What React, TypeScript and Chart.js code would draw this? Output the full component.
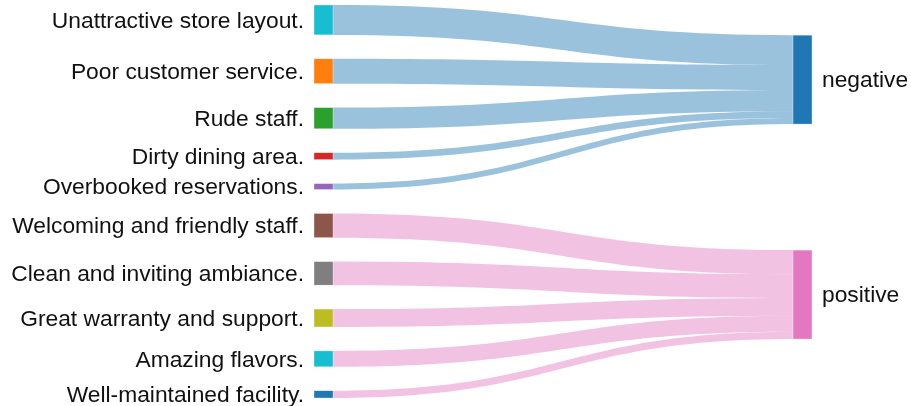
import React, { useEffect, useRef } from "react";
import { Chart, registerables } from "chart.js";

Chart.register(...registerables);

const sourceLabels = [
  "Unattractive store layout.",
  "Poor customer service.",
  "Rude staff.",
  "Dirty dining area.",
  "Overbooked reservations.",
  "Welcoming and friendly staff.",
  "Clean and inviting ambiance.",
  "Great warranty and support.",
  "Amazing flavors.",
  "Well-maintained facility.",
];
const sourceColors = [
  "#17becf", "#ff7f0e", "#2ca02c", "#d62728", "#9467bd",
  "#8c564b", "#7f7f7f", "#bcbd22", "#17becf", "#1f77b4",
];
const targetLabels = ["negative", "positive"];
const targetColors = ["#1f77b4", "#e377c2"];
const linkColors = ["rgba(31,119,180,0.45)", "rgba(227,119,194,0.45)"];
const linkTargets = [0, 0, 0, 0, 0, 1, 1, 1, 1, 1];
const flowValues = [30, 25, 21.3, 7, 6, 24.3, 23.7, 18, 16, 7.3];

const NODE_PAD = 24;
const NODE_W = 19;
const FONT = '22.8px "Liberation Sans", Arial, sans-serif';
const TEXT_DY = 1.5;

const totalHeight =
  flowValues.reduce((a, b) => a + b, 0) + NODE_PAD * (flowValues.length - 1);

function computeLayout() {
  const src: { y0: number; y1: number }[] = [];
  let y = 0;
  flowValues.forEach((v) => {
    src.push({ y0: y, y1: y + v });
    y += v + NODE_PAD;
  });
  const tgt = targetLabels.map((_, t) => {
    let sum = 0;
    let wsum = 0;
    flowValues.forEach((v, i) => {
      if (linkTargets[i] === t) {
        sum += v;
        wsum += v * ((src[i].y0 + src[i].y1) / 2);
      }
    });
    const c = wsum / sum;
    return { y0: c - sum / 2, y1: c + sum / 2 };
  });
  return { src, tgt };
}

const sankeyPlugin = {
  id: "sankeyDraw",
  afterDatasetsDraw(chart: any) {
    const ctx = chart.ctx;
    const xs = chart.scales.x;
    const ys = chart.scales.y;
    const { src, tgt } = computeLayout();
    const xL = xs.getPixelForValue(0);
    const xR = xs.getPixelForValue(1);
    const xLe = xL + NODE_W;
    const xRs = xR - NODE_W;
    const xm = (xLe + xRs) / 2;
    ctx.save();
    // links
    const offsets = targetLabels.map((_, t) => tgt[t].y0);
    flowValues.forEach((v, i) => {
      const t = linkTargets[i];
      const s0 = ys.getPixelForValue(src[i].y0);
      const s1 = ys.getPixelForValue(src[i].y1);
      const t0 = ys.getPixelForValue(offsets[t]);
      const t1 = ys.getPixelForValue(offsets[t] + v);
      offsets[t] += v;
      ctx.beginPath();
      ctx.moveTo(xLe, s0);
      ctx.bezierCurveTo(xm, s0, xm, t0, xRs, t0);
      ctx.lineTo(xRs, t1);
      ctx.bezierCurveTo(xm, t1, xm, s1, xLe, s1);
      ctx.closePath();
      ctx.fillStyle = linkColors[t];
      ctx.fill();
    });
    // nodes
    ctx.lineWidth = 0.5;
    ctx.strokeStyle = "rgba(255,255,255,0.7)";
    src.forEach((n, i) => {
      const a = ys.getPixelForValue(n.y0);
      const b = ys.getPixelForValue(n.y1);
      ctx.fillStyle = sourceColors[i];
      ctx.fillRect(xL, a, NODE_W, b - a);
      ctx.strokeRect(xL, a, NODE_W, b - a);
    });
    tgt.forEach((n, i) => {
      const a = ys.getPixelForValue(n.y0);
      const b = ys.getPixelForValue(n.y1);
      ctx.fillStyle = targetColors[i];
      ctx.fillRect(xRs, a, NODE_W, b - a);
      ctx.strokeRect(xRs, a, NODE_W, b - a);
    });
    // labels
    ctx.font = FONT;
    ctx.fillStyle = "#111";
    ctx.textBaseline = "middle";
    ctx.textAlign = "right";
    src.forEach((n, i) => {
      const c = ys.getPixelForValue((n.y0 + n.y1) / 2);
      ctx.fillText(sourceLabels[i], xL - 10, c + TEXT_DY);
    });
    ctx.textAlign = "left";
    tgt.forEach((n, i) => {
      const c = ys.getPixelForValue((n.y0 + n.y1) / 2);
      ctx.fillText(targetLabels[i], xR + 10, c + TEXT_DY);
    });
    ctx.restore();
  },
};

export default function App() {
  const ref = useRef<HTMLCanvasElement>(null);
  useEffect(() => {
    document.body.style.margin = "0";
    const chart = new Chart(ref.current!, {
      type: "scatter",
      data: { datasets: [{ data: [] }] },
      options: {
        animation: false,
        responsive: true,
        maintainAspectRatio: false,
        layout: { padding: { left: 314, right: 99, top: 5, bottom: 8 } },
        plugins: { legend: { display: false }, tooltip: { enabled: false } },
        scales: {
          x: { display: false, min: 0, max: 1 },
          y: { display: false, min: 0, max: totalHeight, reverse: true },
        },
      },
      plugins: [sankeyPlugin],
    });
    return () => chart.destroy();
  }, []);
  return (
    <div style={{ position: "absolute", left: 0, top: 0, width: 911, height: 406, background: "#fff" }}>
      <canvas ref={ref} />
    </div>
  );
}
